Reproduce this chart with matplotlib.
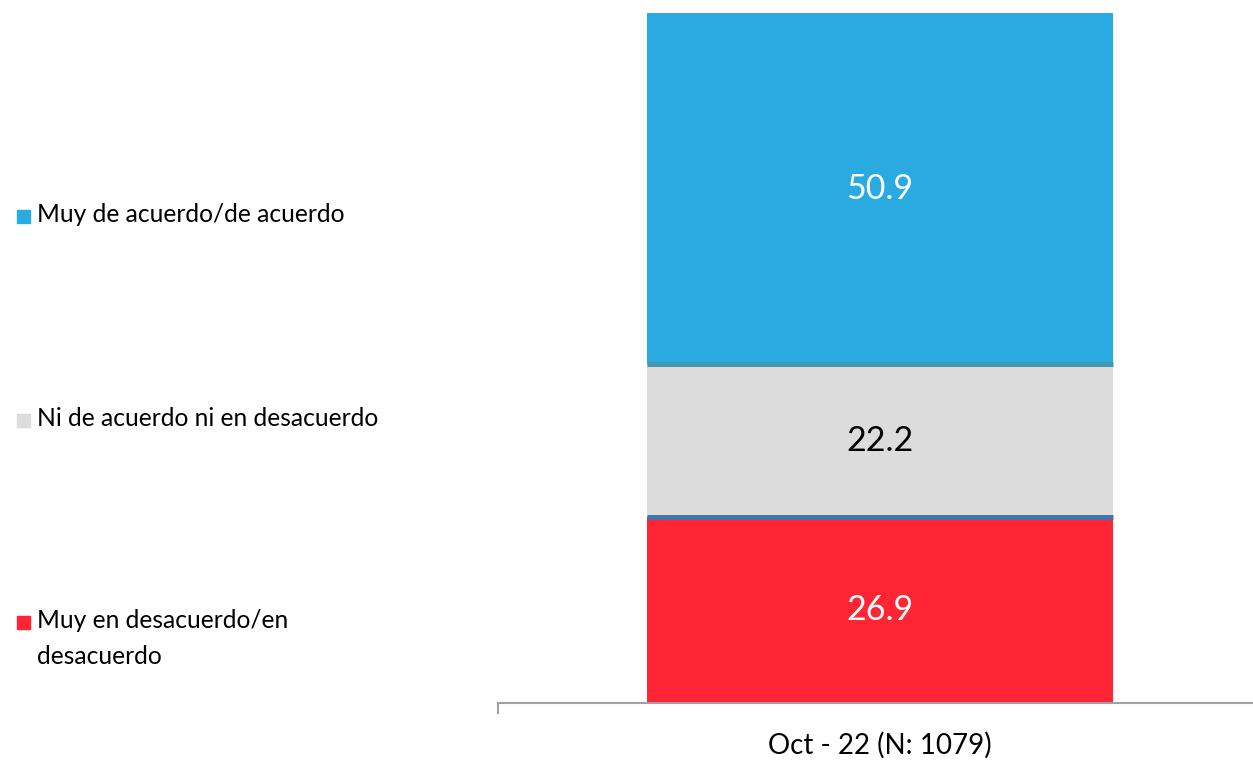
import matplotlib.pyplot as plt
from matplotlib.patches import Rectangle
import numpy as np

plt.rcParams['font.family'] = ['Lato', 'DejaVu Sans']

# Survey wave and shares (bottom to top)
wave = "Oct - 22 (N: 1079)"
categories = ["Muy en desacuerdo/en\ndesacuerdo",
              "Ni de acuerdo ni en desacuerdo",
              "Muy de acuerdo/de acuerdo"]
values = [26.9, 22.2, 50.9]
colors = ["#FF2535", "#DCDCDC", "#29ABE2"]
text_colors = ["white", "black", "white"]
sep_colors = ["#4673AA", "#4298AE"]

fig = plt.figure(figsize=(12.53, 7.6), dpi=100)
ax = fig.add_axes([498 / 1253, 57 / 760, 755 / 1253, 690 / 760])

bottoms = np.concatenate([[0], np.cumsum(values)[:-1]])
bar_w = 0.617
for v, b, c, tc in zip(values, bottoms, colors, text_colors):
    ax.bar(0, v, bottom=b, width=bar_w, color=c, linewidth=0, zorder=2)
    ax.text(0, b + v / 2, f"{v:.1f}", ha="center", va="center",
            fontsize=24.5, color=tc, zorder=4)

# thin separators between stacked segments
for b, sc in zip(bottoms[1:], sep_colors):
    ax.hlines(b, -bar_w / 2, bar_w / 2, color=sc, linewidth=3.6, zorder=3)

ax.set_xlim(-0.506, 0.494)
ax.set_ylim(0, 100)
for s in ["top", "right", "left"]:
    ax.spines[s].set_visible(False)
ax.spines["bottom"].set_color("#A0A0A0")
ax.spines["bottom"].set_linewidth(1.5)
ax.set_yticks([])
ax.set_xticks([-0.506])
ax.set_xticklabels([""])
ax.tick_params(axis="x", which="major", length=8, width=1.5, color="#A0A0A0")
ax.set_xticks([0], minor=True)
ax.set_xticklabels([wave], minor=True, fontsize=20)
ax.tick_params(axis="x", which="minor", length=0, pad=21)

# legend on the left, top entry first
legend_y = [216, 420, 622]
for cat, c, y in zip(categories[::-1], colors[::-1], legend_y):
    fig.patches.append(Rectangle((17 / 1253, 1 - (y + 7) / 760), 13 / 1253, 13 / 760,
                                 transform=fig.transFigure, color=c))
    fig.text(37 / 1253, 1 - (y - 13) / 760, cat, ha="left", va="top",
             fontsize=17.7, linespacing=1.66)

fig.savefig("out.png", dpi=100, facecolor="white")
